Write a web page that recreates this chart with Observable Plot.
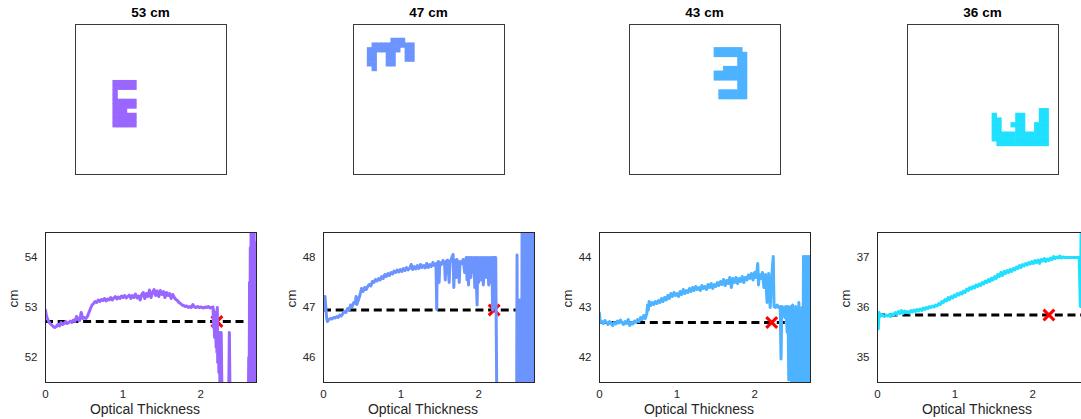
<!DOCTYPE html>
<html><head><meta charset="utf-8">
<script src="https://cdn.jsdelivr.net/npm/d3@7"></script>
<script src="https://cdn.jsdelivr.net/npm/@observablehq/plot@0.6"></script>
<style>
body{margin:0;background:#fff;font-family:"Liberation Sans",Arial,sans-serif;}
#wrap{position:relative;width:1081px;height:419px;overflow:hidden;background:#fff;}
.panel{position:absolute;display:block;}
.title{position:absolute;font-weight:bold;font-size:13.5px;line-height:16px;color:#000;text-align:center;width:151px;font-family:"Liberation Sans",Arial,sans-serif;}
</style></head><body><div id="wrap"></div>
<script>
// ---- data ----
const titles = ["53 cm", "47 cm", "43 cm", "36 cm"];
const colors = ["#9966ff", "#6b94ff", "#4db2ff", "#1fe0ff"];
const yDomLo = [51.5, 45.5, 41.5, 34.5];
const yDomHi = [54.5, 48.5, 44.5, 37.5];
const yTicks = [[52, 53, 54], [46, 47, 48], [42, 43, 44], [35, 36, 37]];
const xTicks = [0, 1, 2];
const xMax = 2.72;
const targets = [52.72, 46.95, 42.70, 35.85];
const markX = [2.21, 2.20, 2.22, 2.21];
const gridSize = 32;

// pixel-grid images (X = filled cell), offset column/row within the 32x32 grid
const shapeCol = [8, 3, 18, 18];
const shapeRow = [12, 3, 5, 18];
const shape1 = [
  "XXXXX",
  "XXXXX",
  "X....",
  "X....",
  "XXXXX",
  "XXXXX",
  "XXX..",
  "XXXXX",
  "XXXXX",
  "XXXXX"
];
const shape2 = [
  ".....XXX..",
  ".XXXXXXXXX",
  "XXXXXXX.XX",
  "XX..XX..XX",
  "XX..XX..XX",
  "XX..XX....",
  ".X........"
];
const shape3 = [
  "XXXXXX.",
  "XXXXXXX",
  ".....XX",
  ".....XX",
  "..XXXXX",
  "XXXXXXX",
  "XXXXXXX",
  ".....XX",
  ".....XX",
  ".XXXXXX",
  ".XXXXXX"
];
const shape4 = [
  "..........XX",
  "X....XX...XX",
  "XX...XX...XX",
  "XX..XXX..XXX",
  "XX...XX..XXX",
  "XXXXXXXXXXXX",
  "XXXXXXXXXXXX",
  ".XXXXXXXXXXX"
];

const series1 = [
[0.00,52.95],[0.01,52.85],[0.02,52.80],[0.04,52.72],[0.06,52.68],[0.08,52.65],[0.10,52.62],[0.12,52.60],
[0.14,52.62],[0.16,52.66],[0.18,52.63],[0.20,52.70],[0.22,52.66],[0.24,52.68],[0.26,52.72],[0.28,52.68],
[0.30,52.70],[0.32,52.73],[0.34,52.70],[0.36,52.75],[0.38,52.72],[0.40,52.82],[0.42,52.76],[0.44,52.74],
[0.46,52.90],[0.48,52.78],[0.50,52.80],[0.52,52.78],[0.54,52.82],[0.56,52.90],[0.58,52.98],[0.60,53.05],
[0.62,53.08],[0.64,53.12],[0.66,53.10],[0.68,53.15],[0.70,53.12],[0.72,53.16],[0.74,53.14],[0.76,53.18],
[0.78,53.13],[0.80,53.17],[0.82,53.15],[0.84,53.20],[0.86,53.15],[0.88,53.19],[0.90,53.22],[0.92,53.17],
[0.94,53.21],[0.96,53.18],[0.98,53.23],[1.00,53.20],[1.02,53.24],[1.04,53.19],[1.06,53.22],[1.08,53.25],
[1.10,53.18],[1.12,53.24],[1.14,53.20],[1.16,53.27],[1.18,53.19],[1.20,53.23],[1.22,53.15],[1.24,53.26],
[1.26,53.30],[1.28,53.18],[1.30,53.28],[1.32,53.22],[1.34,53.35],[1.36,53.20],[1.38,53.30],[1.40,53.36],
[1.42,53.24],[1.44,53.33],[1.46,53.22],[1.48,53.34],[1.50,53.26],[1.52,53.32],[1.54,53.20],[1.56,53.30],
[1.58,53.24],[1.60,53.28],[1.62,53.18],[1.64,53.26],[1.66,53.20],[1.68,53.16],[1.70,53.14],[1.72,53.10],
[1.74,53.08],[1.76,53.05],[1.78,53.04],[1.80,53.02],[1.82,53.03],[1.84,53.00],[1.86,53.02],[1.88,53.00],
[1.90,53.06],[1.92,53.01],[1.94,53.00],[1.96,53.02],[1.98,53.00],[2.00,53.01],[2.02,53.00],[2.04,52.99],
[2.06,53.01],[2.08,53.00],[2.10,53.02],[2.12,52.99],[2.14,53.00],[2.16,53.01],
[2.165,52.60],[2.17,52.95],[2.18,52.40],[2.19,52.90],[2.20,52.20],[2.205,52.85],[2.21,52.10],[2.215,53.00],
[2.22,51.90],[2.23,52.40],[2.235,51.70],[2.24,52.50],[2.25,51.30],[2.26,51.60],[2.265,52.50],[2.275,51.20],
[2.29,51.00],[2.36,51.00],[2.37,52.50],[2.38,51.00],[2.615,51.00],[2.62,52.00],[2.625,51.00],[2.63,53.50],
[2.635,51.00],[2.64,54.20],[2.645,51.00],[2.65,54.80],[2.655,51.00],[2.66,55.00],[2.665,51.00],[2.67,55.00],
[2.675,51.00],[2.68,54.80],[2.685,51.00],[2.69,54.50],[2.695,51.00],[2.70,54.30],[2.705,51.00],[2.71,54.00],
[2.715,51.00],[2.72,54.20]
];

const series2 = [
[0.00,46.95],[0.01,47.05],[0.02,47.22],[0.03,47.00],[0.04,46.80],[0.05,46.72],[0.07,46.76],[0.09,46.78],
[0.11,46.77],[0.13,46.80],[0.15,46.79],[0.17,46.82],[0.19,46.80],[0.21,46.85],[0.23,46.83],[0.25,46.88],
[0.27,46.92],[0.29,46.90],[0.31,46.98],[0.33,46.95],[0.35,47.05],[0.37,47.02],[0.39,47.10],[0.41,47.08],
[0.42,47.22],[0.43,47.06],[0.45,47.15],[0.47,47.25],[0.49,47.38],[0.51,47.32],[0.53,47.40],[0.55,47.36],
[0.57,47.42],[0.59,47.46],[0.61,47.43],[0.63,47.52],[0.65,47.50],[0.67,47.56],[0.69,47.53],[0.71,47.58],
[0.73,47.55],[0.75,47.62],[0.77,47.58],[0.79,47.66],[0.81,47.62],[0.83,47.68],[0.85,47.64],[0.87,47.70],
[0.89,47.67],[0.91,47.73],[0.93,47.70],[0.95,47.75],[0.97,47.71],[0.99,47.76],[1.01,47.72],[1.03,47.78],
[1.05,47.74],[1.07,47.80],[1.09,47.75],[1.11,47.78],[1.13,47.86],[1.15,47.76],[1.17,47.82],[1.19,47.77],
[1.21,47.84],[1.23,47.78],[1.25,47.86],[1.27,47.80],[1.29,47.84],[1.31,47.79],[1.33,47.88],[1.35,47.80],
[1.37,47.86],[1.39,47.82],[1.41,47.90],[1.43,47.84],[1.45,47.88],[1.46,46.96],[1.465,47.86],[1.48,47.92],
[1.49,47.50],[1.50,47.90],[1.52,47.86],[1.54,47.94],[1.56,47.88],[1.57,47.55],[1.58,47.92],[1.60,47.95],
[1.62,47.50],[1.63,47.90],[1.65,47.98],[1.67,48.06],[1.68,47.40],[1.69,47.95],[1.71,47.60],[1.72,47.96],
[1.74,47.85],[1.75,47.50],[1.76,47.92],[1.78,47.88],[1.80,47.96],[1.82,47.70],[1.84,48.00],[1.85,47.55],
[1.86,48.00],[1.87,47.45],[1.88,48.00],[1.90,47.60],[1.91,48.00],[1.92,47.70],[1.94,48.00],[1.95,47.40],
[1.96,48.00],[1.98,47.05],[1.99,48.00],[2.00,47.50],[2.02,48.00],[2.03,47.55],[2.05,48.00],[2.06,47.45],
[2.08,48.00],[2.10,47.60],[2.11,48.00],[2.13,47.45],[2.14,48.00],[2.16,47.50],[2.17,48.00],[2.18,46.95],
[2.19,48.00],[2.21,48.00],[2.215,47.00],[2.22,48.00],[2.235,45.00],[2.30,45.00],[2.49,45.00],[2.495,48.05],
[2.50,45.00],[2.52,45.00],[2.525,47.15],[2.55,47.15],[2.555,45.00],[2.56,48.80],[2.57,45.00],[2.58,48.80],
[2.59,45.00],[2.60,48.80],[2.61,45.00],[2.62,48.80],[2.63,45.00],[2.64,48.80],[2.65,45.00],[2.66,48.80],
[2.67,45.00],[2.68,48.80],[2.69,45.00],[2.70,48.80],[2.71,45.00],[2.72,48.80]
];

const series3 = [
[0.00,42.89],[0.01,42.70],[0.03,42.72],[0.05,42.68],[0.07,42.74],[0.09,42.70],[0.11,42.66],[0.13,42.72],
[0.15,42.68],[0.17,42.64],[0.19,42.70],[0.21,42.67],[0.23,42.73],[0.25,42.69],[0.27,42.75],[0.29,42.70],
[0.31,42.66],[0.33,42.72],[0.35,42.68],[0.37,42.76],[0.39,42.64],[0.41,42.70],[0.43,42.67],[0.45,42.73],
[0.47,42.70],[0.49,42.76],[0.51,42.72],[0.53,42.80],[0.55,42.76],[0.57,42.84],[0.59,42.78],[0.61,42.88],
[0.62,43.05],[0.63,42.95],[0.64,43.12],[0.66,43.04],[0.68,43.10],[0.70,43.06],[0.72,43.12],[0.74,43.08],
[0.76,43.14],[0.78,43.10],[0.80,43.18],[0.82,43.12],[0.84,43.20],[0.86,43.15],[0.88,43.24],[0.90,43.18],
[0.92,43.28],[0.94,43.22],[0.96,43.30],[0.98,43.24],[1.00,43.28],[1.02,43.22],[1.04,43.32],[1.06,43.26],
[1.08,43.36],[1.10,43.28],[1.12,43.34],[1.14,43.30],[1.16,43.38],[1.18,43.32],[1.20,43.40],[1.22,43.34],
[1.24,43.42],[1.26,43.36],[1.28,43.40],[1.30,43.34],[1.32,43.44],[1.34,43.38],[1.36,43.42],[1.38,43.36],
[1.40,43.46],[1.42,43.40],[1.44,43.48],[1.46,43.38],[1.48,43.46],[1.50,43.42],[1.52,43.50],[1.54,43.44],
[1.56,43.52],[1.58,43.46],[1.60,43.56],[1.62,43.44],[1.64,43.54],[1.66,43.48],[1.68,43.60],[1.70,43.40],
[1.72,43.58],[1.74,43.50],[1.76,43.60],[1.78,43.48],[1.80,43.58],[1.82,43.52],[1.84,43.62],[1.86,43.50],
[1.88,43.60],[1.90,43.55],[1.92,43.65],[1.94,43.58],[1.96,43.68],[1.98,43.55],[2.00,43.70],[2.02,43.60],
[2.04,43.88],[2.05,43.45],[2.06,43.66],[2.08,43.58],[2.10,43.70],[2.12,43.40],[2.14,43.66],[2.16,43.10],
[2.18,43.68],[2.20,43.00],[2.22,43.62],[2.24,44.02],[2.25,43.02],[2.27,43.00],[2.29,43.05],[2.31,43.00],
[2.33,43.02],[2.34,41.97],[2.35,43.02],[2.37,43.00],[2.39,42.80],[2.40,43.02],[2.42,42.50],[2.43,43.02],
[2.44,41.55],[2.45,43.00],[2.46,42.20],[2.47,43.02],[2.48,41.00],[2.49,43.05],[2.50,41.00],[2.51,42.80],
[2.52,41.00],[2.53,43.02],[2.54,41.00],[2.55,42.90],[2.56,41.00],[2.57,43.10],[2.58,41.00],[2.59,42.60],
[2.60,41.00],[2.61,43.00],[2.62,41.00],[2.63,44.02],[2.64,41.00],[2.65,44.02],[2.66,41.00],[2.67,44.02],
[2.68,41.00],[2.69,44.02],[2.70,41.00],[2.71,44.02],[2.72,41.00]
];

const series4 = [
[0.00,35.75],[0.01,35.57],[0.02,35.90],[0.03,35.82],[0.05,35.86],[0.07,35.84],[0.09,35.82],[0.11,35.85],
[0.13,35.83],[0.15,35.86],[0.17,35.82],[0.19,35.87],[0.21,35.85],[0.23,35.90],[0.25,35.86],[0.27,35.92],
[0.29,35.88],[0.31,35.94],[0.33,35.88],[0.35,35.93],[0.37,35.90],[0.39,35.92],[0.41,35.89],[0.43,35.94],
[0.45,35.91],[0.47,35.95],[0.49,35.92],[0.51,35.96],[0.53,35.93],[0.55,35.97],[0.57,35.94],[0.59,35.99],
[0.61,35.96],[0.63,36.00],[0.65,35.98],[0.67,36.02],[0.69,36.00],[0.71,36.03],[0.73,36.01],[0.75,36.05],
[0.77,36.03],[0.79,36.08],[0.81,36.06],[0.83,36.12],[0.85,36.10],[0.87,36.16],[0.89,36.13],[0.91,36.20],
[0.93,36.16],[0.95,36.22],[0.97,36.19],[0.99,36.25],[1.01,36.22],[1.03,36.28],[1.05,36.25],[1.07,36.30],
[1.09,36.27],[1.11,36.33],[1.13,36.30],[1.15,36.37],[1.17,36.34],[1.19,36.40],[1.21,36.37],[1.23,36.42],
[1.25,36.39],[1.27,36.45],[1.29,36.42],[1.31,36.47],[1.33,36.44],[1.35,36.50],[1.37,36.47],[1.39,36.53],
[1.41,36.50],[1.43,36.56],[1.45,36.52],[1.47,36.59],[1.49,36.55],[1.51,36.62],[1.53,36.58],[1.55,36.66],
[1.57,36.62],[1.59,36.70],[1.61,36.64],[1.63,36.72],[1.65,36.68],[1.67,36.74],[1.69,36.70],[1.71,36.76],
[1.73,36.72],[1.75,36.78],[1.77,36.75],[1.79,36.81],[1.81,36.78],[1.83,36.84],[1.85,36.80],[1.87,36.86],
[1.89,36.83],[1.91,36.88],[1.93,36.85],[1.95,36.90],[1.97,36.87],[1.99,36.92],[2.01,36.88],[2.03,36.94],
[2.05,36.90],[2.07,36.95],[2.09,36.88],[2.11,36.96],[2.13,36.93],[2.15,36.98],[2.17,36.92],[2.19,36.97],
[2.21,36.94],[2.23,36.99],[2.25,36.96],[2.27,37.02],[2.29,36.98],[2.31,37.01],[2.33,36.99],[2.35,37.03],
[2.37,36.99],[2.39,37.01],[2.41,37.00],[2.45,37.00],[2.50,37.00],[2.55,37.00],[2.60,37.00],[2.615,36.02],
[2.625,37.60]
];

// ---- layout ----
const shapes = [shape1, shape2, shape3, shape4];
const series = [series1, series2, series3, series4];
const topLeft = [75, 353, 629, 907];
const botLeft = [45, 322.7, 599, 876.7];
const wrap = document.getElementById("wrap");
const font = "Liberation Sans, Arial, sans-serif";

for (let i = 0; i < 4; i++) {
  const t = document.createElement("div");
  t.className = "title";
  t.textContent = titles[i];
  t.style.left = topLeft[i] + "px";
  t.style.top = "5px";
  wrap.appendChild(t);

  const cells = [];
  shapes[i].forEach((row, r) => [...row].forEach((ch, c) => {
    if (ch === "X") cells.push({c: c + shapeCol[i], r: r + shapeRow[i]});
  }));
  const img = Plot.plot({
    width: 153, height: 152, margin: 1,
    style: {background: "transparent"},
    x: {domain: [0, gridSize], axis: null},
    y: {domain: [0, gridSize], reverse: true, axis: null},
    marks: [
      Plot.rect(cells, {x1: d => d.c, x2: d => d.c + 1, y1: d => d.r, y2: d => d.r + 1, fill: colors[i], inset: -0.3}),
      Plot.frame({stroke: "#3a3a3a", strokeWidth: 1})
    ]
  });
  img.classList.add("panel");
  img.style.left = (topLeft[i] - 1) + "px";
  img.style.top = "23px";
  wrap.appendChild(img);

  const chart = Plot.plot({
    width: 260, height: 190,
    marginLeft: 45, marginRight: 4, marginTop: 2, marginBottom: 38,
    style: {fontFamily: font, fontSize: "11.5px", color: "#262626", background: "transparent", overflow: "visible"},
    x: {domain: [0, xMax]},
    y: {domain: [yDomLo[i], yDomHi[i]]},
    marks: [
      Plot.ruleY([targets[i]], {stroke: "#000", strokeWidth: 3, strokeDasharray: "8,4.7"}),
      Plot.dot([{x: markX[i], y: targets[i]}], {x: "x", y: "y", symbol: "times", r: 5, stroke: "#ff0000", strokeWidth: 3}),
      Plot.line(series[i], {x: d => d[0], y: d => d[1], stroke: colors[i], strokeWidth: 3, clip: true, strokeLinejoin: "round"}),
      Plot.axisX({ticks: xTicks, tickSize: 0, tickPadding: 7, fontSize: 11.5, label: null, tickFormat: d3.format("d")}),
      Plot.axisY({ticks: yTicks[i], tickSize: 0, tickPadding: 8, fontSize: 11.5, label: null, tickFormat: d3.format("d")}),
      Plot.frame({stroke: "#262626", strokeWidth: 1}),
      Plot.text(["Optical Thickness"], {text: d => d, frameAnchor: "bottom", dx: -6, dy: 31, fontSize: 14, fill: "#262626"}),
      Plot.text(["cm"], {text: d => d, frameAnchor: "left", dx: -32, rotate: -90, fontSize: 13.5, fill: "#262626"})
    ]
  });
  chart.classList.add("panel");
  chart.style.left = (botLeft[i] - 45) + "px";
  chart.style.top = "229.7px";
  wrap.appendChild(chart);
}
</script>
</body></html>
